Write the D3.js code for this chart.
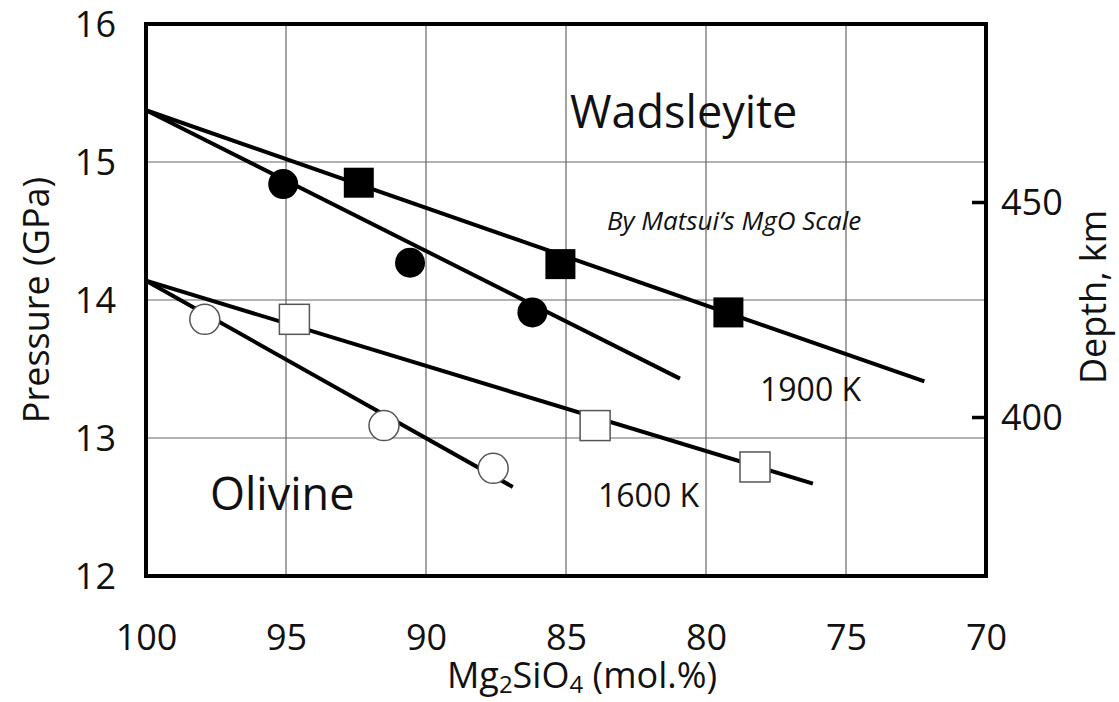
<!DOCTYPE html>
<html>
<head>
<meta charset="utf-8">
<script src="https://cdn.jsdelivr.net/npm/d3@7"></script>
<style>
  html, body { margin: 0; padding: 0; background: #fff; }
  svg { display: block; font-family: "Open Sans", "Noto Sans", sans-serif; }
</style>
</head>
<body>
<svg id="chart" width="1119" height="702"></svg>
<script>
// ---- data ----
const xTicks = [100, 95, 90, 85, 80, 75, 70];
const yTicks = [12, 13, 14, 15, 16];
const depthTicks = [400, 450];

// filled circles
const filledCircleX = [95.1, 90.57, 86.2];
const filledCircleP = [14.84, 14.27, 13.91];
// filled squares
const filledSquareX = [92.4, 85.2, 79.2];
const filledSquareP = [14.85, 14.26, 13.91];
// open circles
const openCircleX = [97.9, 91.5, 87.6];
const openCircleP = [13.86, 13.09, 12.78];
// open squares
const openSquareX = [94.7, 83.96, 78.25];
const openSquareP = [13.86, 13.09, 12.79];

// fitted lines (endpoints)
const lineFilledCircleX = [100, 80.93];
const lineFilledCircleP = [15.375, 13.43];
const lineFilledSquareX = [100, 72.2];
const lineFilledSquareP = [15.375, 13.41];
const lineOpenCircleX = [100, 86.9];
const lineOpenCircleP = [14.14, 12.645];
const lineOpenSquareX = [100, 76.18];
const lineOpenSquareP = [14.14, 12.67];

(function () {
// ---- layout ----
const mLeft = 146, mRight = 986, mTop = 24, mBottom = 576;
const svg = d3.select("#chart");

const x = d3.scaleLinear().domain([100, 70]).range([mLeft, mRight]);
const y = d3.scaleLinear().domain([12, 16]).range([mBottom, mTop]);
// depth axis: 400 km at 13.152 GPa, 450 km at 14.71 GPa
const depth = d3.scaleLinear().domain([400, 450]).range([y(13.152), y(14.71)]);

// gridlines
const grid = svg.append("g");
grid.selectAll("line.vx").data(xTicks.slice(1, -1)).join("line")
  .attr("x1", d => x(d)).attr("x2", d => x(d))
  .attr("y1", mTop).attr("y2", mBottom)
  .attr("stroke", "#666").attr("stroke-width", 1.2);
grid.selectAll("line.hy").data(yTicks.slice(1, -1)).join("line")
  .attr("x1", mLeft).attr("x2", mRight)
  .attr("y1", d => y(d)).attr("y2", d => y(d))
  .attr("stroke", "#666").attr("stroke-width", 1.2);

// x axis labels
const xAxis = d3.axisBottom(x).tickValues(xTicks).tickSize(0).tickPadding(0).tickFormat(d3.format("d"));
const gx = svg.append("g").attr("transform", `translate(0,${mBottom})`).call(xAxis);
gx.select(".domain").remove();
gx.selectAll("text").attr("font-size", 36).attr("font-family", "Open Sans").attr("fill", "#111")
  .attr("dy", null).attr("y", 74);

// y axis labels
const yAxis = d3.axisLeft(y).tickValues(yTicks).tickSize(0).tickPadding(0).tickFormat(d3.format("d"));
const gy = svg.append("g").attr("transform", `translate(${mLeft},0)`).call(yAxis);
gy.select(".domain").remove();
gy.selectAll("text").attr("font-size", 36).attr("font-family", "Open Sans").attr("fill", "#111")
  .attr("x", -30).attr("dy", "0.36em");

// right depth axis
const dAxis = d3.axisLeft(depth).tickValues(depthTicks).tickSize(14).tickPadding(0).tickFormat(d3.format("d"));
const gd = svg.append("g").attr("transform", `translate(${mRight},0)`).call(dAxis);
gd.select(".domain").remove();
gd.selectAll("line").attr("stroke", "#000").attr("stroke-width", 3.5);
gd.selectAll("text").attr("font-size", 36).attr("font-family", "Open Sans").attr("fill", "#111")
  .attr("text-anchor", "start").attr("x", 15).attr("dy", "0.36em");

// frame
svg.append("rect").attr("x", mLeft).attr("y", mTop)
  .attr("width", mRight - mLeft).attr("height", mBottom - mTop)
  .attr("fill", "none").attr("stroke", "#000").attr("stroke-width", 4);

// fitted lines
const lineGen = d3.line().x(d => x(d[0])).y(d => y(d[1]));
const fits = [
  [lineFilledCircleX, lineFilledCircleP],
  [lineFilledSquareX, lineFilledSquareP],
  [lineOpenCircleX, lineOpenCircleP],
  [lineOpenSquareX, lineOpenSquareP]
];
svg.append("g").selectAll("path").data(fits).join("path")
  .attr("d", d => lineGen(d[0].map((v, i) => [v, d[1][i]])))
  .attr("fill", "none").attr("stroke", "#000").attr("stroke-width", 4);

// markers
const zip = (a, b) => a.map((v, i) => [v, b[i]]);
const R = 15, S = 30;
svg.append("g").selectAll("circle").data(zip(filledCircleX, filledCircleP)).join("circle")
  .attr("cx", d => x(d[0])).attr("cy", d => y(d[1])).attr("r", R).attr("fill", "#000");
svg.append("g").selectAll("rect").data(zip(filledSquareX, filledSquareP)).join("rect")
  .attr("x", d => x(d[0]) - S / 2).attr("y", d => y(d[1]) - S / 2)
  .attr("width", S).attr("height", S).attr("fill", "#000");
svg.append("g").selectAll("circle").data(zip(openCircleX, openCircleP)).join("circle")
  .attr("cx", d => x(d[0])).attr("cy", d => y(d[1])).attr("r", R)
  .attr("fill", "#fff").attr("stroke", "#555").attr("stroke-width", 1.5);
svg.append("g").selectAll("rect").data(zip(openSquareX, openSquareP)).join("rect")
  .attr("x", d => x(d[0]) - S / 2).attr("y", d => y(d[1]) - S / 2)
  .attr("width", S).attr("height", S)
  .attr("fill", "#fff").attr("stroke", "#555").attr("stroke-width", 1.5);

// annotations
const ann = svg.append("g").attr("fill", "#111").attr("font-family", "Open Sans");
ann.append("text").attr("x", 570).attr("y", 128).attr("font-size", 45).text("Wadsleyite");
ann.append("text").attr("x", 210).attr("y", 510).attr("font-size", 45).text("Olivine");
ann.append("text").attr("x", 607).attr("y", 230).attr("font-size", 26).attr("font-style", "italic")
  .text("By Matsui\u2019s MgO Scale");
ann.append("text").attr("x", 760).attr("y", 401).attr("font-size", 32).text("1900 K");
ann.append("text").attr("x", 598).attr("y", 507).attr("font-size", 32).text("1600 K");

// axis titles
const xt = svg.append("text").attr("x", 582).attr("y", 688).attr("text-anchor", "middle")
  .attr("font-size", 36).attr("fill", "#111");
xt.append("tspan").text("Mg");
xt.append("tspan").attr("font-size", 24).attr("dy", 5).text("2");
xt.append("tspan").attr("dy", -5).text("SiO");
xt.append("tspan").attr("font-size", 24).attr("dy", 5).text("4");
xt.append("tspan").attr("dy", -5).text(" (mol.%)");

svg.append("text").attr("transform", `translate(49,${y(14)}) rotate(-90)`)
  .attr("text-anchor", "middle").attr("font-size", 36).attr("fill", "#111")
  .text("Pressure (GPa)");
svg.append("text").attr("transform", `translate(1106,297) rotate(-90)`)
  .attr("text-anchor", "middle").attr("font-size", 36).attr("fill", "#111")
  .text("Depth, km");
})();
</script>
</body>
</html>
